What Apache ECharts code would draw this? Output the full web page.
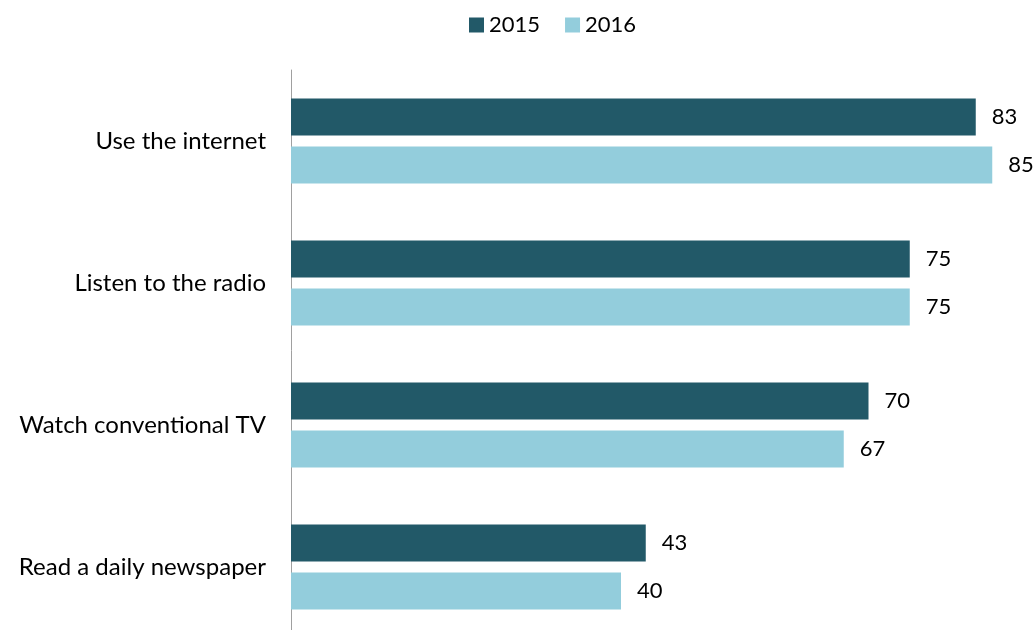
<!DOCTYPE html>
<html>

<head>
  <meta charset="UTF-8">
  <title>media use</title>
  <style>
  body {
    margin: 0;
    background: #fff;
  }

  #content1 {
    width: 1036px;
    height: 630px;
  }
  </style>
  <script src="https://cdn.jsdelivr.net/npm/echarts@6/dist/echarts.min.js"></script>
</head>

<body>
  <div id="content1"></div>
  <script type="text/javascript">
  var categories = ['Use the internet', 'Listen to the radio', 'Watch conventional TV', 'Read a daily newspaper'];
  var seriesNames = ['2015', '2016'];
  var values2015 = [83, 75, 70, 43];
  var values2016 = [85, 75, 67, 40];
  var colors = ['#225968', '#93cddc'];

  var fontName = 'Lato';

  var myChart = echarts.init(document.getElementById('content1'));

  var labelStyle = {
    show: true,
    position: 'right',
    distance: 16,
    color: '#000',
    fontFamily: fontName,
    fontSize: 22
  };

  var option = {
    color: colors,
    animation: false,
    legend: {
      data: seriesNames,
      top: 9,
      left: 464,
      itemWidth: 15,
      itemHeight: 15,
      itemGap: 25,
      icon: 'rect',
      textStyle: {
        color: '#000',
        fontFamily: fontName,
        fontSize: 22
      }
    },
    grid: {
      left: 291,
      width: 742.5,
      top: 70,
      height: 568,
      outerBoundsMode: 'none'
    },
    xAxis: {
      type: 'value',
      min: 0,
      max: 90,
      show: false
    },
    yAxis: {
      type: 'category',
      inverse: true,
      data: categories,
      axisTick: { show: false },
      axisLine: {
        lineStyle: { color: '#a0a0a0', width: 1 }
      },
      axisLabel: {
        color: '#000',
        fontFamily: fontName,
        fontSize: 24,
        margin: 25
      }
    },
    series: [{
      name: seriesNames[0],
      type: 'bar',
      data: values2015,
      barWidth: 37,
      barGap: '30%',
      label: labelStyle
    }, {
      name: seriesNames[1],
      type: 'bar',
      data: values2016,
      barWidth: 37,
      barGap: '30%',
      label: labelStyle
    }]
  };
  myChart.setOption(option);
  </script>
</body>

</html>
